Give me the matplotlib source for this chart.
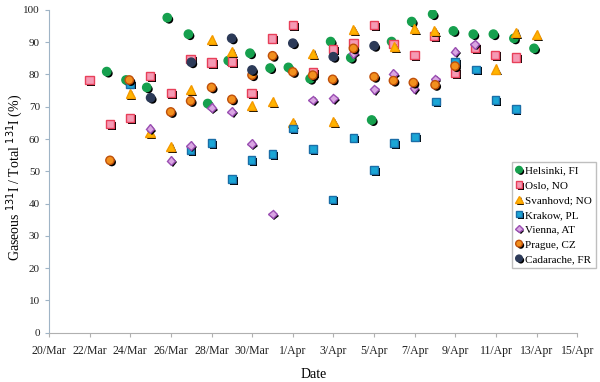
import matplotlib
matplotlib.use("Agg")
import matplotlib.pyplot as plt
import matplotlib.patheffects as pe

plt.rcParams['font.family'] = ['Liberation Serif', 'DejaVu Serif']

# x = days since 20/Mar, y = gaseous / total I-131 (%)
helsinki_x = [2.84, 3.79, 4.81, 5.82, 6.86, 7.81, 8.82, 9.89, 10.88, 11.78, 12.85, 13.86,
              14.85, 15.88, 16.86, 17.85, 18.88, 19.9, 20.88, 21.87, 22.88, 23.87]
helsinki_y = [80.9, 78.3, 76.0, 97.6, 92.5, 71.0, 84.3, 86.6, 82.0, 82.2, 78.7, 90.2,
              85.2, 65.9, 90.2, 96.4, 98.7, 93.5, 92.5, 92.5, 91.2, 88.1]

oslo_x = [1.99, 3.0, 3.99, 4.97, 5.99, 6.97, 8.0, 9.0, 9.97, 10.96, 12.0, 12.98,
          13.96, 14.98, 15.99, 16.95, 17.98, 18.96, 19.98, 20.98, 21.95, 22.97]
oslo_y = [78.3, 64.7, 66.6, 79.5, 74.2, 84.8, 83.7, 84.0, 74.2, 91.2, 95.3, 80.8,
          87.8, 89.7, 95.3, 89.4, 86.1, 92.0, 80.6, 88.3, 86.1, 85.3]

svanhovd_x = [3.99, 4.97, 6.0, 6.97, 8.0, 9.0, 9.97, 11.0, 12.0, 12.98, 13.99, 14.98,
              16.99, 17.98, 18.96, 21.98, 22.97, 24.0]
svanhovd_y = [74.0, 62.0, 57.6, 75.2, 90.7, 87.1, 70.3, 71.6, 65.2, 86.6, 65.4, 93.8,
              88.6, 94.3, 93.5, 81.7, 93.1, 92.3]

krakow_x = [3.99, 6.97, 8.0, 9.0, 9.97, 11.0, 12.0, 12.98, 13.96, 14.98, 16.0, 16.99,
            18.01, 19.03, 19.98, 21.01, 21.98, 22.97]
krakow_y = [77.1, 56.6, 58.7, 47.6, 53.5, 55.4, 63.3, 56.9, 41.3, 60.4, 50.4, 58.7,
            60.7, 71.6, 84.0, 81.6, 72.1, 69.3]

vienna_x = [4.97, 6.0, 6.97, 8.0, 9.0, 9.97, 11.0, 12.98, 13.99, 14.98, 16.0, 16.95,
            17.96, 19.0, 19.98, 20.96]
vienna_y = [63.2, 53.3, 58.0, 69.7, 68.5, 58.5, 36.8, 72.1, 72.6, 86.6, 75.4, 80.2,
            75.7, 78.6, 87.1, 89.4]

prague_x = [3.0, 3.95, 5.99, 6.97, 8.0, 9.0, 9.99, 11.0, 12.0, 12.98, 13.96, 14.98,
            16.0, 16.95, 17.93, 19.0, 19.98]
prague_y = [53.4, 78.3, 68.4, 71.8, 76.0, 72.3, 79.8, 85.8, 80.8, 79.8, 78.5, 88.1,
            79.3, 78.1, 77.5, 76.8, 82.6]

cadarache_x = [5.0, 7.0, 8.99, 9.99, 12.0, 13.99, 16.0]
cadarache_y = [72.8, 83.8, 91.2, 81.4, 89.7, 85.5, 88.9]

tick_days = list(range(0, 27, 2))
tick_labels = ["20/Mar", "22/Mar", "24/Mar", "26/Mar", "28/Mar", "30/Mar", "1/Apr",
               "3/Apr", "5/Apr", "7/Apr", "9/Apr", "11/Apr", "13/Apr", "15/Apr"]

fig = plt.figure(figsize=(6, 3.82), dpi=100)
ax = fig.add_axes([0.0817, 0.129, 0.8805, 0.845])

shadow = [pe.SimplePatchShadow(offset=(1.3, -1.3), shadow_rgbFace='black', alpha=1.0),
          pe.Normal()]

series = [
    (helsinki_x, helsinki_y, "Helsinki, FI", 'o', '#16a04e', '#16a04e', 6),
    (oslo_x, oslo_y, "Oslo, NO", 's', '#f59ab4', '#e8405a', 6),
    (svanhovd_x, svanhovd_y, "Svanhovd; NO", '^', '#ffb400', '#f59a00', 6.5),
    (krakow_x, krakow_y, "Krakow, PL", 's', '#1aa6d6', '#1a6ea8', 5.5),
    (vienna_x, vienna_y, "Vienna, AT", 'D', '#d9a6e2', '#9a4eb2', 4.5),
    (prague_x, prague_y, "Prague, CZ", 'o', '#f2901e', '#c0500a', 6),
    (cadarache_x, cadarache_y, "Cadarache, FR", 'o', '#2c3a58', '#2c3a58', 6),
]

for x, y, name, m, fc, ec, ms in series:
    ax.plot(x, y, linestyle='none', marker=m, markersize=ms, markerfacecolor=fc,
            markeredgecolor=ec, markeredgewidth=1.0, label=name, path_effects=shadow)

ax.set_xlim(0, 26)
ax.set_ylim(0, 100)
ax.set_xticks(tick_days)
ax.set_xticklabels(tick_labels)
ax.set_yticks(range(0, 101, 10))

for s in ['top', 'right']:
    ax.spines[s].set_visible(False)
ax.spines['left'].set_color('#9fb4c6')
ax.spines['bottom'].set_color('#b0b0b0')
ax.tick_params(axis='y', colors='#9fb4c6', labelcolor='#222222', labelsize=8, length=3)
ax.tick_params(axis='x', colors='#b0b0b0', labelcolor='#222222', labelsize=8.5, length=3, pad=6)

ax.set_xlabel("Date", fontsize=10, labelpad=8)
ax.set_ylabel("Gaseous $^{131}$I / Total $^{131}$I (%)", fontsize=10)
ax.yaxis.set_label_coords(-0.045, 0.48)

leg = ax.legend(loc='upper left', bbox_to_anchor=(0.876, 0.529), fontsize=8,
                frameon=True, fancybox=False, edgecolor='#b0b0b0', handlelength=0.6,
                handletextpad=0.25, labelspacing=0.45, borderpad=0.35, markerscale=0.8,
                borderaxespad=0)
leg.get_frame().set_linewidth(1.0)

fig.savefig("out.png", dpi=100)
